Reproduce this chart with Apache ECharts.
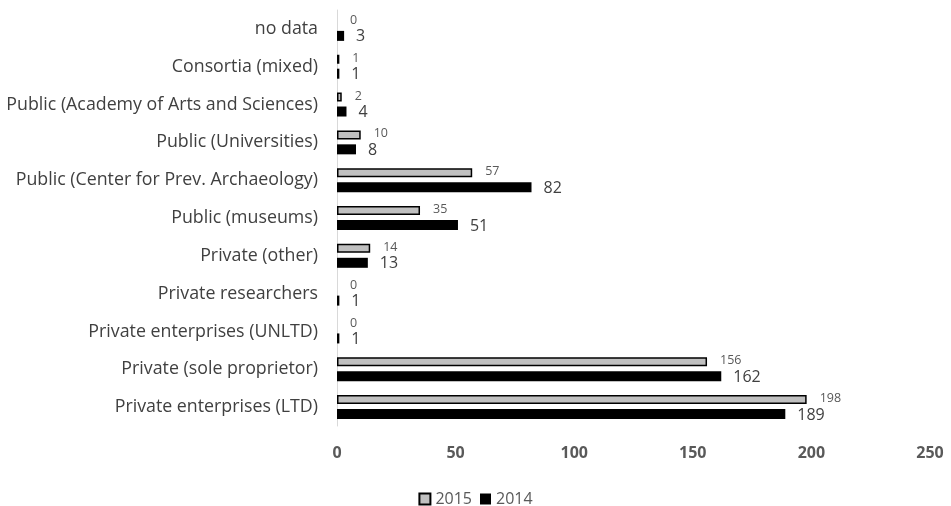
<!DOCTYPE html>
<html><head><meta charset="utf-8">
<script src="https://cdn.jsdelivr.net/npm/echarts@6/dist/echarts.min.js"></script>
<style>html,body{margin:0;padding:0;background:#fff}#c{width:951px;height:506px}</style>
</head><body><div id="c"></div>
<script>
const categories = ["Private enterprises (LTD)","Private (sole proprietor)","Private enterprises (UNLTD)","Private researchers","Private (other)","Public (museums)","Public (Center for Prev. Archaeology)","Public (Universities)","Public (Academy of Arts and Sciences)","Consortia (mixed)","no data"];
const values2015 = [198,156,0,0,14,35,57,10,2,1,0];
const values2014 = [189,162,1,1,13,51,82,8,4,1,3];
const xTicks = [0,50,100,150,200,250];
const FONT = "Open Sans";
const data2015 = values2015.map(v => v === 0 ? {value:v, itemStyle:{borderWidth:0, color:'rgba(0,0,0,0)'}} : v);
const chart = echarts.init(document.getElementById('c'));
chart.setOption({
  animation:false,
  textStyle:{fontFamily:FONT},
  grid:{left:337,right:21,top:10,bottom:80},
  legend:{data:['2015','2014'],top:486,left:'center',itemWidth:11,itemHeight:11,itemGap:8,
    textStyle:{fontSize:16,color:'#595959',fontFamily:FONT},icon:'rect'},
  xAxis:{type:'value',min:xTicks[0],max:xTicks[xTicks.length-1],interval:50,splitLine:{show:false},axisLine:{show:false},axisTick:{show:false},
    axisLabel:{fontSize:16,fontWeight:'bold',color:'#595959',margin:19,fontFamily:FONT}},
  yAxis:{type:'category',data:categories,axisLine:{lineStyle:{color:'#d9d9d9',width:1}},axisTick:{show:false},
    axisLabel:{fontSize:17.8,color:'#404040',margin:19,fontFamily:FONT}},
  series:[
    {name:'2015',type:'bar',data:data2015,barWidth:9,barGap:'55%',
      itemStyle:{color:'#c0c0c0',borderColor:'#000',borderWidth:1.5},
      label:{show:true,position:'right',distance:13,fontSize:12.5,color:'#595959',offset:[0,-1],fontFamily:FONT}},
    {name:'2014',type:'bar',data:values2014,barWidth:10,
      itemStyle:{color:'#000'},
      label:{show:true,position:'right',distance:12,fontSize:16,color:'#404040',offset:[0,1],fontFamily:FONT}}
  ]
});
</script></body></html>
